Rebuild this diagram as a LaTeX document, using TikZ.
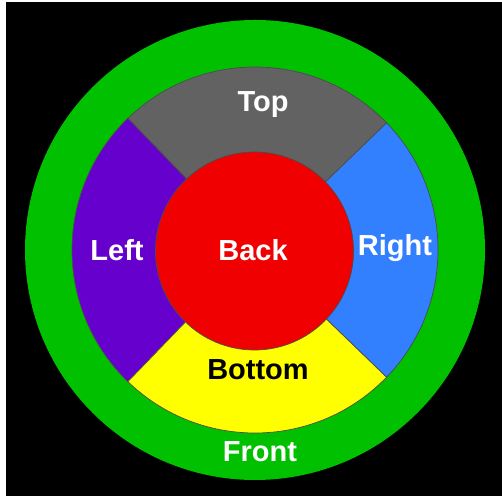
\documentclass[tikz,border=0pt]{standalone}
\usepackage{fontspec}
\setmainfont{Liberation Sans}
\usepackage{xcolor}
\definecolor{frontgreen}{RGB}{0,192,0}
\definecolor{topgray}{RGB}{98,98,98}
\definecolor{leftpurple}{RGB}{102,0,204}
\definecolor{rightblue}{RGB}{51,128,255}
\definecolor{bottomyellow}{RGB}{255,255,0}
\definecolor{backred}{RGB}{240,0,0}

\begin{document}
\begin{tikzpicture}[x=0.02cm, y=0.02cm, every node/.style={font=\fontsize{16.5}{18}\selectfont\bfseries}]
\fill[white] (0,0) rectangle (502,496);
\fill[black] (6,0) rectangle (502,494);
\fill[frontgreen] (255,246) circle[radius=230];
\foreach \from/\to/\col in {44/134/topgray, 134/226/leftpurple,
                            226/316/bottomyellow, 316/404/rightblue}{
  \filldraw[fill=\col, draw=black!70, thin] (255,246) -- ++(\from:183)
    arc[start angle=\from, end angle=\to, radius=183] -- cycle;
}
\filldraw[fill=backred, draw=black!70, thin] (254.5,245) circle[radius=99];
\node[text=white] (top) at (263,391) {Top};
\node[text=white] (left) at (117,246) {Left};
\node[text=white] (back) at (253,246) {Back};
\node[text=white] (right) at (395,248) {Right};
\node[text=black] (bottom) at (258,126) {Bottom};
\node[text=white] (front) at (260,44) {Front};
\end{tikzpicture}
\end{document}
